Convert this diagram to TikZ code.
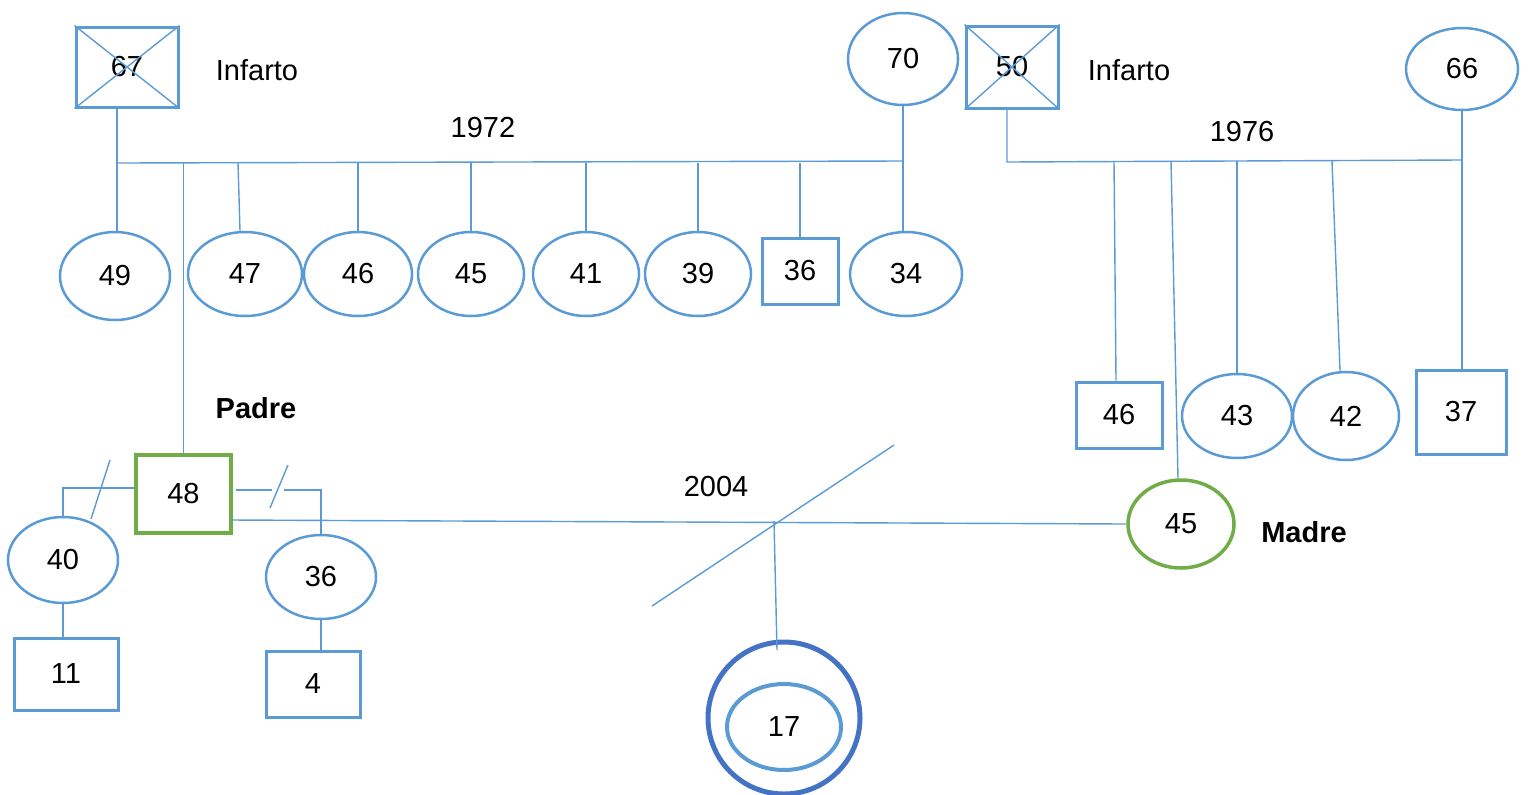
\documentclass[tikz,border=0pt]{standalone}
\usepackage{fontspec}
\setmainfont{Liberation Sans}
\usetikzlibrary{shapes.geometric}
\definecolor{lb}{HTML}{5B9BD5}
\definecolor{gr}{HTML}{70AD47}
\definecolor{db}{HTML}{4472C4}
\begin{document}
\begin{tikzpicture}[x=0.5pt,y=-0.5pt,
 every node/.style={font=\fontsize{14.5}{17}\selectfont, inner sep=0pt},
 ln/.style={draw=lb, line width=0.7pt},
 ell/.style={ellipse, draw=lb, line width=1.25pt},
 sq/.style={rectangle, draw=lb, line width=1.5pt},
 gell/.style={ellipse, draw=gr, line width=1.75pt},
 gsq/.style={rectangle, draw=gr, line width=1.75pt},
 bold/.style={font=\fontsize{14.5}{17}\selectfont\bfseries}]
\useasboundingbox (0,0) rectangle (1530,794);

% grandparents left
\node[sq, minimum width=51pt, minimum height=40pt] (g67) at (127,67) {67};
\draw[ln] (g67.north west) -- (g67.south east);
\draw[ln] (g67.south west) -- (g67.north east);
\node (inf1) at (257,70) {Infarto};
\node[ell, minimum width=55pt, minimum height=46pt] (g70) at (903,59) {70};
\node (y1972) at (483,128) {1972};

% grandparents right
\node[sq, minimum width=46pt, minimum height=41pt] (g50) at (1012,67) {50};
\draw[ln] (g50.north west) -- (g50.south east);
\draw[ln] (g50.south west) -- (g50.north east);
\node (inf2) at (1129,70) {Infarto};
\node[ell, minimum width=56pt, minimum height=41pt] (g66) at (1462,69) {66};
\node (y1976) at (1242,132) {1976};

% first sibship
\node[ell, minimum width=55pt, minimum height=44pt] (g49) at (115,276) {49};
\node[ell, minimum width=57pt, minimum height=42pt] (g47) at (245,274) {47};
\node[ell, minimum width=54pt, minimum height=42pt] (g46) at (358,274) {46};
\node[ell, minimum width=53pt, minimum height=42pt] (g45) at (471,274) {45};
\node[ell, minimum width=53pt, minimum height=42pt] (g41) at (586,274) {41};
\node[ell, minimum width=53pt, minimum height=42pt] (g39) at (698,274) {39};
\node[sq, minimum width=38pt, minimum height=33pt] (g36) at (800,271) {36};
\node[ell, minimum width=56pt, minimum height=42pt] (g34) at (906,274) {34};

\coordinate (s1L) at (117,163);
\coordinate (s1R) at (903,161);
\coordinate (t47) at (238,163);
\draw[ln] (s1L) -- (s1R);
\draw[ln] (g67.south -| s1L) -- (g49.north -| s1L);
\draw[ln] (g70.south) -- (g70.south |- g34.north);
\draw[ln] (t47) -- ([xshift=-2.5pt]g47.north);
\draw[ln] (g46.north |- s1L) -- (g46.north);
\draw[ln] (g45.north |- s1L) -- (g45.north);
\draw[ln] (g41.north |- s1L) -- (g41.north);
\draw[ln] (g39.north |- s1L) -- (g39.north);
\draw[ln] (g36.north |- s1L) -- (g36.north);

% second sibship
\node[sq, minimum width=43pt, minimum height=33pt] (h46) at (1119,415) {46};
\node[ell, minimum width=55pt, minimum height=42pt] (h43) at (1237,416) {43};
\node[ell, minimum width=53pt, minimum height=44pt] (h42) at (1346,416) {42};
\node[sq, minimum width=45pt, minimum height=42pt] (h37) at (1461,412) {37};
\node[gell, minimum width=53pt, minimum height=44pt] (gM) at (1181,524) {45};
\node[bold] (madre) at (1304,532) {Madre};

\coordinate (s2L) at (1007,162);
\coordinate (s2R) at (1461,160);
\coordinate (t46) at (1114,162);
\coordinate (tM) at (1171,161);
\coordinate (t43) at (1237,161);
\coordinate (t42) at (1332,161);
\draw[ln] (g50.south -| s2L) -- (s2L) -- (s2R);
\draw[ln] (g66.south) -- (g66.south |- h37.north);
\draw[ln] (t46) -- ([xshift=-1.5pt]h46.north);
\draw[ln] (tM) -- ([xshift=-1.5pt]gM.north);
\draw[ln] (t43) -- (h43.north);
\draw[ln] (t42) -- ([xshift=-3pt]h42.north);

% father and his partners
\node[gsq, minimum width=47.5pt, minimum height=39pt] (g48) at (183.5,494) {48};
\node[bold] (padre) at (256,408) {Padre};
\draw[ln] (g48.north) -- (g48.north |- s1L);

\node[ell, minimum width=55pt, minimum height=43pt] (g40) at (63,560) {40};
\node[sq, minimum width=52pt, minimum height=36pt] (g11) at (66,674) {11};
\coordinate (c40) at (63,488);
\coordinate (d1a) at (91,519);
\coordinate (d1b) at (110,460);
\draw[ln] (g40.north) -- (c40) -- (c40 -| g48.west);
\draw[ln] (d1a) -- (d1b);
\draw[ln] (g40.south) -- (g40.south |- g11.north);

\node[ell, minimum width=55pt, minimum height=42pt] (g36b) at (321,577) {36};
\node[sq, minimum width=47pt, minimum height=33pt] (g4) at (313,684) {4};
\coordinate (r1) at (236,490);
\coordinate (r2) at (272,490);
\coordinate (r3) at (284,490);
\coordinate (c36) at (321,490);
\coordinate (d2a) at (270,508);
\coordinate (d2b) at (288,465);
\draw[ln] (r1) -- (r2);
\draw[ln] (r3) -- (c36) -- (g36b.north);
\draw[ln] (d2a) -- (d2b);
\draw[ln] (g36b.south) -- (g36b.south |- g4.north);

% marriage of parents
\coordinate (mL) at (231,520);
\draw[ln] (mL) -- (gM.west);
\node (y2004) at (716,487) {2004};
\coordinate (dva) at (652,606);
\coordinate (dvb) at (894,445);
\draw[ln] (dva) -- (dvb);

% index person
\node[circle, draw=db, line width=2.5pt, minimum size=76pt] (outer) at (784,718) {};
\node[ell, draw=lb, line width=2pt, minimum width=57pt, minimum height=43pt] (g17) at (784,727) {17};
\coordinate (k1) at (774,521);
\coordinate (k2) at (777,650);
\draw[ln] (k1) -- (k2);
\end{tikzpicture}
\end{document}
